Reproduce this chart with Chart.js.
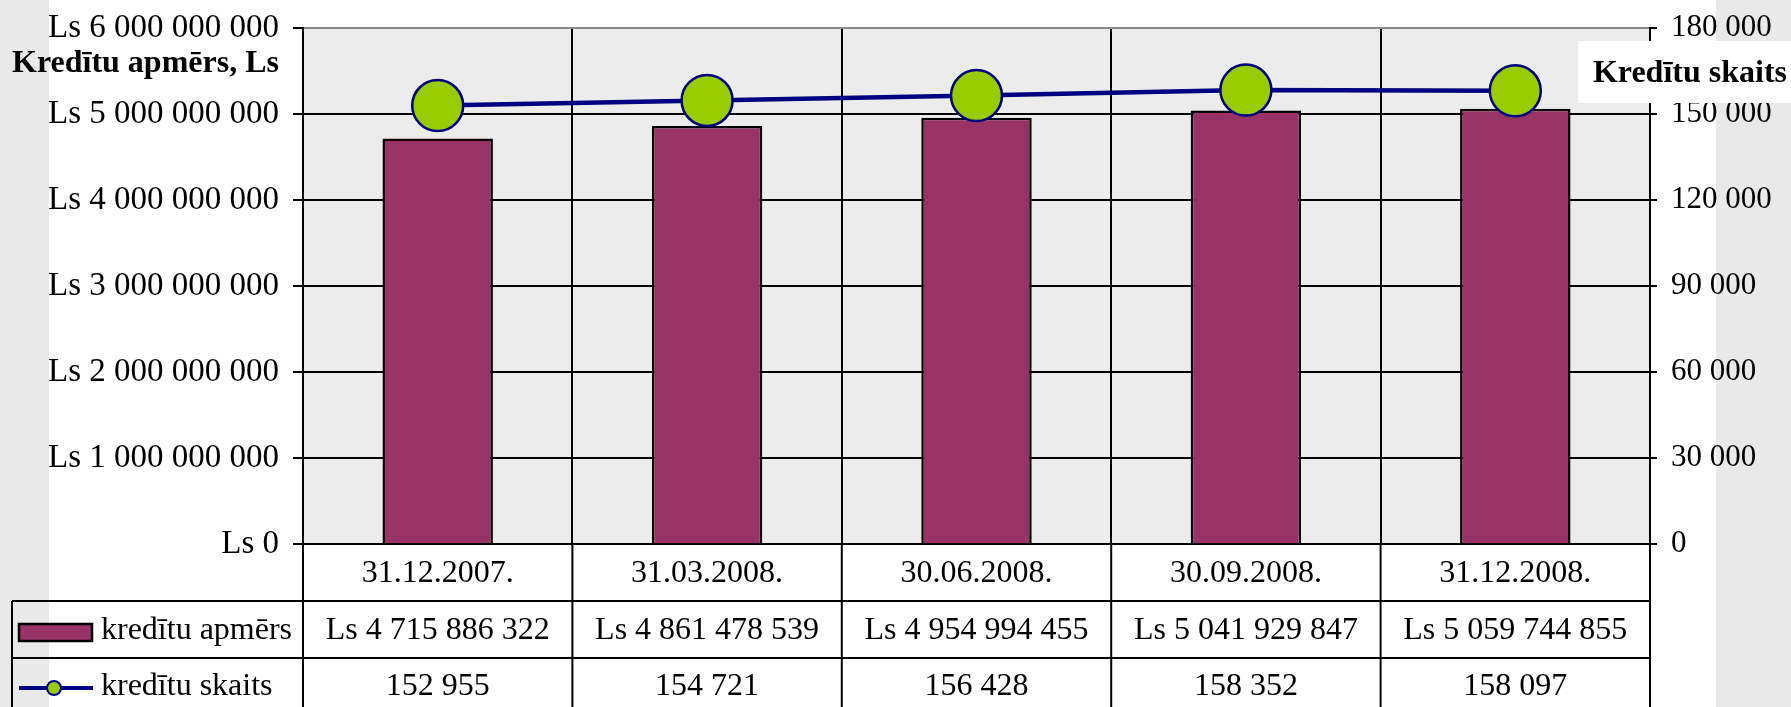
<!DOCTYPE html>
<html>
<head>
<meta charset="utf-8">
<script src="https://cdn.jsdelivr.net/npm/chart.js@4/dist/chart.umd.min.js"></script>
<style>
  html, body { margin: 0; padding: 0; background: #ffffff; }
  canvas { display: block; }
</style>
</head>
<body>
<canvas id="c" width="1791" height="707"></canvas>
<script>
const categories = ['31.12.2007.', '31.03.2008.', '30.06.2008.', '30.09.2008.', '31.12.2008.'];
const kredituApmers = [4715886322, 4861478539, 4954994455, 5041929847, 5059744855];
const kredituSkaits = [152955, 154721, 156428, 158352, 158097];
const seriesNames = ['kredītu apmērs', 'kredītu skaits'];
const leftTitle = 'Kredītu apmērs, Ls';
const rightTitle = 'Kredītu skaits';

const SERIF = "'Liberation Serif', 'Times New Roman', serif";
const FS = 32;
const BAR_COLOR = '#993366';
const LINE_COLOR = '#000080';
const POINT_COLOR = '#99cc00';

function fmt(v) { return String(Math.round(v)).replace(/\B(?=(\d{3})+(?!\d))/g, ' '); }

const bgPlugin = {
  id: 'bg',
  beforeDraw(chart) {
    const ctx = chart.ctx, a = chart.chartArea;
    ctx.save();
    ctx.fillStyle = '#ffffff';
    ctx.fillRect(0, 0, chart.width, chart.height);
    ctx.fillStyle = '#e9e9e9';
    ctx.fillRect(0, 0, 49, chart.height);
    ctx.fillRect(1716, 0, chart.width - 1716, chart.height);
    ctx.fillStyle = '#ececec';
    ctx.fillRect(a.left, a.top, a.right - a.left, a.bottom - a.top);
    ctx.fillStyle = '#000';
    ctx.font = 'bold ' + FS + 'px ' + SERIF;
    ctx.textAlign = 'left';
    ctx.textBaseline = 'alphabetic';
    ctx.fillText(leftTitle, 12, 72);
    ctx.restore();
  },
  afterDraw(chart) {
    const ctx = chart.ctx, a = chart.chartArea;
    const xs = chart.scales.x;
    const n = categories.length;
    const cw = (a.right - a.left) / n;
    const r0 = a.bottom, r1 = 601, r2 = 658, r3 = 720;
    const legL = 12;
    ctx.save();
    ctx.strokeStyle = '#000';
    ctx.lineWidth = 2;
    ctx.beginPath();
    ctx.moveTo(legL, r1); ctx.lineTo(a.right, r1);
    ctx.moveTo(legL, r2); ctx.lineTo(a.right, r2);
    ctx.moveTo(legL, r1); ctx.lineTo(legL, r3);
    for (let i = 0; i <= n; i++) {
      const x = a.left + i * cw;
      ctx.moveTo(x, r0); ctx.lineTo(x, r3);
    }
    ctx.stroke();

    ctx.fillStyle = '#000';
    ctx.font = FS + 'px ' + SERIF;
    ctx.textAlign = 'center';
    ctx.textBaseline = 'middle';
    for (let i = 0; i < n; i++) {
      const cx = xs.getPixelForValue(i);
      ctx.fillText(categories[i], cx, (r0 + r1) / 2 + 1);
      ctx.fillText('Ls ' + fmt(kredituApmers[i]), cx, (r1 + r2) / 2 + 1);
      ctx.fillText(fmt(kredituSkaits[i]), cx, 687);
    }
    ctx.fillStyle = BAR_COLOR;
    ctx.fillRect(19, 624, 73, 17);
    ctx.lineWidth = 2.5;
    ctx.strokeRect(19, 624, 73, 17);
    ctx.strokeStyle = LINE_COLOR;
    ctx.lineWidth = 4;
    ctx.beginPath(); ctx.moveTo(19, 688); ctx.lineTo(93, 688); ctx.stroke();
    ctx.beginPath(); ctx.arc(54, 688, 7, 0, Math.PI * 2);
    ctx.fillStyle = POINT_COLOR; ctx.fill();
    ctx.lineWidth = 2; ctx.stroke();
    ctx.fillStyle = '#000';
    ctx.textAlign = 'left';
    ctx.fillText(seriesNames[0], 101, (r1 + r2) / 2 + 1);
    ctx.fillText(seriesNames[1], 101, 687);

    ctx.fillStyle = '#ffffff';
    ctx.fillRect(1578, 41, chart.width - 1578, 62);
    ctx.fillStyle = '#000';
    ctx.font = 'bold ' + FS + 'px ' + SERIF;
    ctx.textAlign = 'right';
    ctx.textBaseline = 'alphabetic';
    ctx.fillText(rightTitle, 1787, 82);
    ctx.restore();
  }
};

new Chart(document.getElementById('c'), {
  data: {
    labels: categories,
    datasets: [
      {
        type: 'line',
        label: seriesNames[1],
        data: kredituSkaits,
        yAxisID: 'y1',
        order: 0,
        borderColor: LINE_COLOR,
        borderWidth: 4.5,
        tension: 0,
        pointRadius: 25.5,
        pointHoverRadius: 25.5,
        pointBackgroundColor: POINT_COLOR,
        pointBorderColor: LINE_COLOR,
        pointBorderWidth: 2.5
      },
      {
        type: 'bar',
        label: seriesNames[0],
        data: kredituApmers,
        yAxisID: 'y',
        order: 1,
        backgroundColor: BAR_COLOR,
        borderColor: '#000000',
        borderWidth: 2.5,
        barPercentage: 0.41,
        categoryPercentage: 1
      }
    ]
  },
  options: {
    responsive: false,
    animation: false,
    devicePixelRatio: 1,
    layout: { padding: { top: 26, left: 0, right: 0, bottom: 0 } },
    plugins: { legend: { display: false }, tooltip: { enabled: false } },
    scales: {
      x: {
        type: 'category',
        offset: true,
        grid: { offset: true, color: '#000', lineWidth: 2, drawTicks: false },
        border: { display: true, color: '#000', width: 2 },
        ticks: { display: false },
        afterFit(s) { s.height = 163; s.paddingLeft = 0; s.paddingRight = 0; }
      },
      y: {
        position: 'left',
        min: 0, max: 6000000000,
        ticks: {
          stepSize: 1000000000,
          color: '#000',
          font: { family: SERIF, size: 33 },
          padding: 14,
          callback: v => 'Ls ' + fmt(v)
        },
        grid: {
          color: c => (c.tick && c.tick.value === 6000000000) ? '#8a8a8a' : '#000',
          lineWidth: 2,
          tickLength: 10,
          tickColor: '#000'
        },
        border: { display: true, color: '#000', width: 2 },
        afterFit(s) { s.width = 303; s.paddingTop = 0; s.paddingBottom = 0; }
      },
      y1: {
        position: 'right',
        min: 0, max: 180000,
        ticks: {
          stepSize: 30000,
          color: '#000',
          font: { family: SERIF, size: 31 },
          padding: 14,
          callback: v => fmt(v)
        },
        grid: { drawOnChartArea: false, color: '#000', lineWidth: 2, tickLength: 7 },
        border: { display: true, color: '#000', width: 2 },
        afterFit(s) { s.width = 141; s.paddingTop = 0; s.paddingBottom = 0; }
      }
    }
  },
  plugins: [bgPlugin]
});
</script>
</body>
</html>
